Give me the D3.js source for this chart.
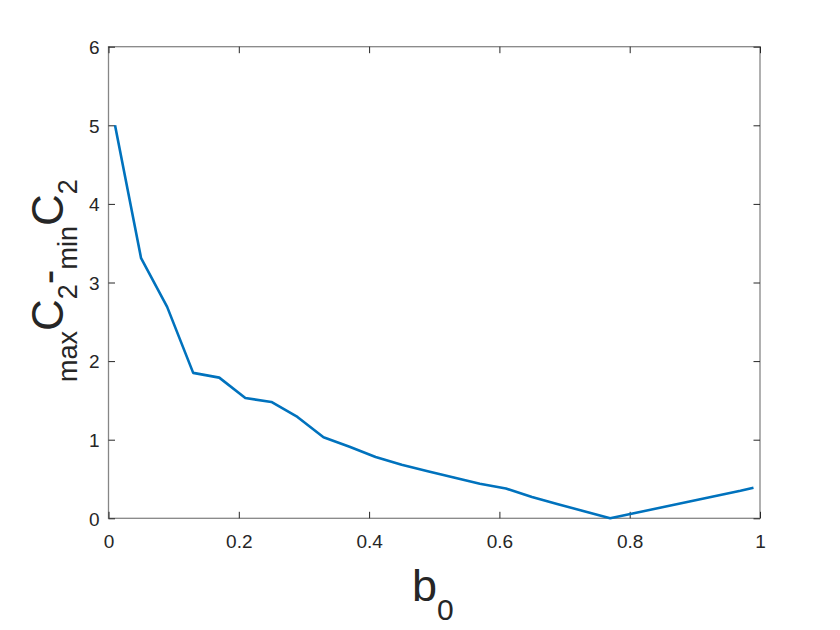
<!DOCTYPE html>
<html><head><meta charset="utf-8">
<script src="https://cdn.jsdelivr.net/npm/d3@7"></script>
<style>body{margin:0;background:#fff}svg{display:block}</style>
</head><body>
<svg id="chart" width="840" height="630"></svg>
<script>
const b0 = [0.01,0.05,0.09,0.13,0.17,0.21,0.25,0.29,0.33,0.37,0.41,0.45,0.49,0.53,0.57,0.61,0.65,0.69,0.73,0.77,0.81,0.85,0.89,0.93,0.97,0.99];
const dC2 = [5.00,3.31,2.69,1.85,1.79,1.53,1.48,1.29,1.03,0.91,0.78,0.68,0.60,0.52,0.44,0.38,0.27,0.18,0.09,0.00,0.07,0.14,0.21,0.28,0.35,0.39];
const xTicks = [0,0.2,0.4,0.6,0.8,1];
const yTicks = [0,1,2,3,4,5,6];

const svg = d3.select("#chart");
const L = 108.5, R = 760, T = 46.7, B = 518.3;
const x = d3.scaleLinear().domain([0,1]).range([L,R]);
const y = d3.scaleLinear().domain([0,6]).range([B,T]);
const axisColor = "#868686", textColor = "#262626", tl = 6.5;
const font = "Liberation Sans, Arial, Helvetica, sans-serif";

const g = svg.append("g");
g.append("rect").attr("x",L).attr("y",T).attr("width",R-L).attr("height",B-T)
 .attr("fill","none").attr("stroke",axisColor).attr("stroke-width",1.3);

const xb = g.append("g").attr("transform",`translate(0,${B})`)
 .call(d3.axisBottom(x).tickValues(xTicks).tickSizeInner(-tl).tickSizeOuter(0).tickPadding(16).tickFormat(d3.format("")));
const xt = g.append("g").attr("transform",`translate(0,${T})`)
 .call(d3.axisTop(x).tickValues(xTicks).tickSizeInner(-tl).tickSizeOuter(0).tickFormat(""));
const yl = g.append("g").attr("transform",`translate(${L},0)`)
 .call(d3.axisLeft(y).tickValues(yTicks).tickSizeInner(-tl).tickSizeOuter(0).tickPadding(9).tickFormat(d3.format("")));
const yr = g.append("g").attr("transform",`translate(${R},0)`)
 .call(d3.axisRight(y).tickValues(yTicks).tickSizeInner(-tl).tickSizeOuter(0).tickFormat(""));
[xb,xt,yl,yr].forEach(a=>{
  a.attr("font-size",19).attr("font-family",font);
  a.select(".domain").remove();
  a.selectAll(".tick line").attr("stroke","#262626").attr("stroke-width",1);
  a.selectAll(".tick text").attr("fill",textColor).style("font-size","19px");
});
yl.selectAll(".tick text").attr("dy","0.36em");

const line = d3.line().x((d,i)=>x(b0[i])).y(d=>y(d));
g.append("path").datum(dC2).attr("d",line).attr("fill","none")
 .attr("stroke","#0072BD").attr("stroke-width",2.6).attr("stroke-linejoin","round");

const xl = svg.append("text").attr("x",412).attr("y",601).attr("font-family",font).attr("fill",textColor);
xl.append("tspan").attr("font-size",45).text("b");
xl.append("tspan").attr("font-size",30).attr("dy",19).text("0");

const ylab = svg.append("text").attr("transform","translate(63,382) rotate(-90)")
 .attr("font-family",font).attr("fill",textColor);
ylab.append("tspan").attr("font-size",27).attr("dy",14).text("max");
ylab.append("tspan").attr("font-size",44).attr("dy",-14).text("C");
ylab.append("tspan").attr("font-size",27).attr("dy",14).text("2");
ylab.append("tspan").attr("font-size",44).attr("dy",-14).text("-");
ylab.append("tspan").attr("font-size",27).attr("dy",14).text("min");
ylab.append("tspan").attr("font-size",44).attr("dy",-14).text("C");
ylab.append("tspan").attr("font-size",27).attr("dy",14).text("2");
</script>
</body></html>
